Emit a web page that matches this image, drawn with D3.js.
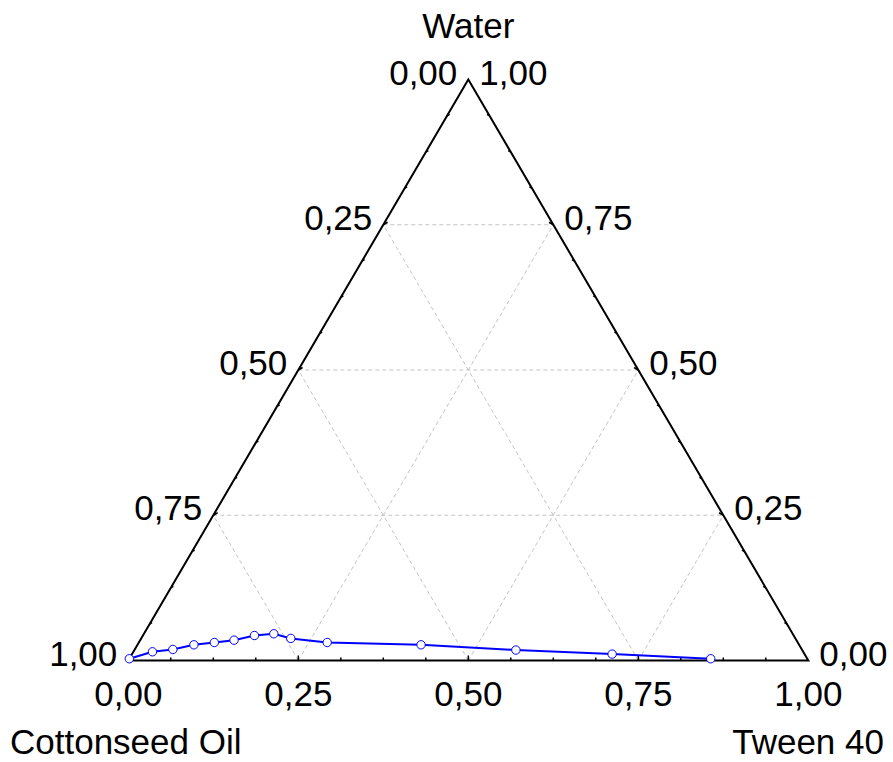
<!DOCTYPE html>
<html>
<head>
<meta charset="utf-8">
<script src="https://cdn.jsdelivr.net/npm/d3@7"></script>
<style>
  html, body { margin: 0; padding: 0; background: #fff; }
  svg { display: block; font-family: "Liberation Sans", Arial, sans-serif; }
</style>
</head>
<body>
<svg id="chart" width="893" height="762"></svg>
<script>
// Component names (vertex titles)
const componentNames = { oil: "Cottonseed Oil", tween: "Tween 40", water: "Water" };

// Phase boundary points (mass fractions; each row sums to 1)
const oilFrac   = [0.997, 0.957, 0.925, 0.890, 0.858, 0.827, 0.793, 0.763, 0.742, 0.692, 0.556, 0.421, 0.283, 0.142];
const tweenFrac = [0.000, 0.028, 0.056, 0.083, 0.111, 0.138, 0.164, 0.191, 0.220, 0.277, 0.417, 0.561, 0.706, 0.855];
const waterFrac = [0.003, 0.015, 0.019, 0.027, 0.031, 0.035, 0.043, 0.046, 0.038, 0.031, 0.027, 0.018, 0.011, 0.003];

// Axis labels
const tickValues = [0, 0.25, 0.5, 0.75, 1];
const tickLabels = ["0,00", "0,25", "0,50", "0,75", "1,00"];
const minorStep = 1 / 16;

const svg = d3.select("#chart");
const fontSize = 35;

// Horizontal position: tween + water/2 ; vertical position: water
const xs = d3.scaleLinear().domain([0, 1]).range([128.3, 808.3]);
const ys = d3.scaleLinear().domain([0, 1]).range([660.5, 79.5]);

// barycentric (oil, tween, water) -> screen point
function pt(o, t, w) { return [xs(t + w / 2), ys(w)]; }

const A = pt(1, 0, 0); // oil vertex (bottom left)
const B = pt(0, 1, 0); // tween vertex (bottom right)
const C = pt(0, 0, 1); // water vertex (top)

// Dashed grid lines at 0.25, 0.5, 0.75 for each component
const grid = svg.append("g")
  .attr("stroke", "#c4c4c4")
  .attr("stroke-width", 1)
  .attr("stroke-dasharray", "4,3")
  .attr("fill", "none");

[0.25, 0.5, 0.75].forEach(v => {
  // water = v (horizontal)
  grid.append("line").datum([pt(1 - v, 0, v), pt(0, 1 - v, v)])
    .attr("x1", d => d[0][0]).attr("y1", d => d[0][1])
    .attr("x2", d => d[1][0]).attr("y2", d => d[1][1]);
  // tween = v
  grid.append("line").datum([pt(1 - v, v, 0), pt(0, v, 1 - v)])
    .attr("x1", d => d[0][0]).attr("y1", d => d[0][1])
    .attr("x2", d => d[1][0]).attr("y2", d => d[1][1]);
  // oil = v
  grid.append("line").datum([pt(v, 1 - v, 0), pt(v, 0, 1 - v)])
    .attr("x1", d => d[0][0]).attr("y1", d => d[0][1])
    .attr("x2", d => d[1][0]).attr("y2", d => d[1][1]);
});

// Tick marks along the three edges (pointing inward)
const ticks = svg.append("g").attr("stroke", "#000").attr("stroke-width", 1.5);
const nTicks = Math.round(1 / minorStep);
for (let i = 1; i < nTicks; i++) {
  const v = i * minorStep;
  const major = (i % 4 === 0);
  const len = major ? 5 : 3;
  // bottom edge
  const pb = pt(1 - v, v, 0);
  ticks.append("line").attr("x1", pb[0]).attr("y1", pb[1]).attr("x2", pb[0]).attr("y2", pb[1] - len);
  // left edge (oil - water)
  const pl = pt(1 - v, 0, v);
  ticks.append("line").attr("x1", pl[0]).attr("y1", pl[1])
    .attr("x2", pl[0] + len * Math.cos(-Math.PI / 6)).attr("y2", pl[1] + len * Math.sin(-Math.PI / 6) + 0);
  // right edge (tween - water)
  const pr = pt(0, 1 - v, v);
  ticks.append("line").attr("x1", pr[0]).attr("y1", pr[1])
    .attr("x2", pr[0] - len * Math.cos(Math.PI / 6)).attr("y2", pr[1] - len * Math.sin(Math.PI / 6));
}

// Triangle outline
svg.append("path")
  .attr("d", d3.line()([A, B, C]) + "Z")
  .attr("fill", "none")
  .attr("stroke", "#000")
  .attr("stroke-width", 2)
  .attr("stroke-linejoin", "miter");

// Boundary curve
const pts = oilFrac.map((o, i) => pt(o, tweenFrac[i], waterFrac[i]));
svg.append("path")
  .attr("d", d3.line()(pts))
  .attr("fill", "none")
  .attr("stroke", "#0000ff")
  .attr("stroke-width", 2);

svg.append("g").selectAll("circle").data(pts).join("circle")
  .attr("cx", d => d[0]).attr("cy", d => d[1])
  .attr("r", 4.2)
  .attr("fill", "#fff")
  .attr("stroke", "#0000ff")
  .attr("stroke-width", 1);

// Tick labels
const labels = svg.append("g").attr("font-size", fontSize).attr("fill", "#000");

// bottom edge: tween fraction, 0 at left
tickValues.forEach((v, i) => {
  const p = pt(1 - v, v, 0);
  labels.append("text").attr("x", p[0]).attr("y", 706)
    .attr("text-anchor", "middle").text(tickLabels[i]);
});
// left edge: oil fraction, 1 at bottom, 0 at top
tickValues.forEach((v, i) => {
  const p = pt(v, 0, 1 - v);
  labels.append("text").attr("x", p[0] - 11).attr("y", p[1] + 5)
    .attr("text-anchor", "end").text(tickLabels[i]);
});
// right edge: water fraction, 0 at bottom, 1 at top
tickValues.forEach((v, i) => {
  const p = pt(0, 1 - v, v);
  labels.append("text").attr("x", p[0] + 11).attr("y", p[1] + 5)
    .attr("text-anchor", "start").text(tickLabels[i]);
});

// Component titles
labels.append("text").attr("x", C[0]).attr("y", 38).attr("text-anchor", "middle").text(componentNames.water);
labels.append("text").attr("x", 10).attr("y", 754).attr("text-anchor", "start").text(componentNames.oil);
labels.append("text").attr("x", 884).attr("y", 754).attr("text-anchor", "end").text(componentNames.tween);
</script>
</body>
</html>
